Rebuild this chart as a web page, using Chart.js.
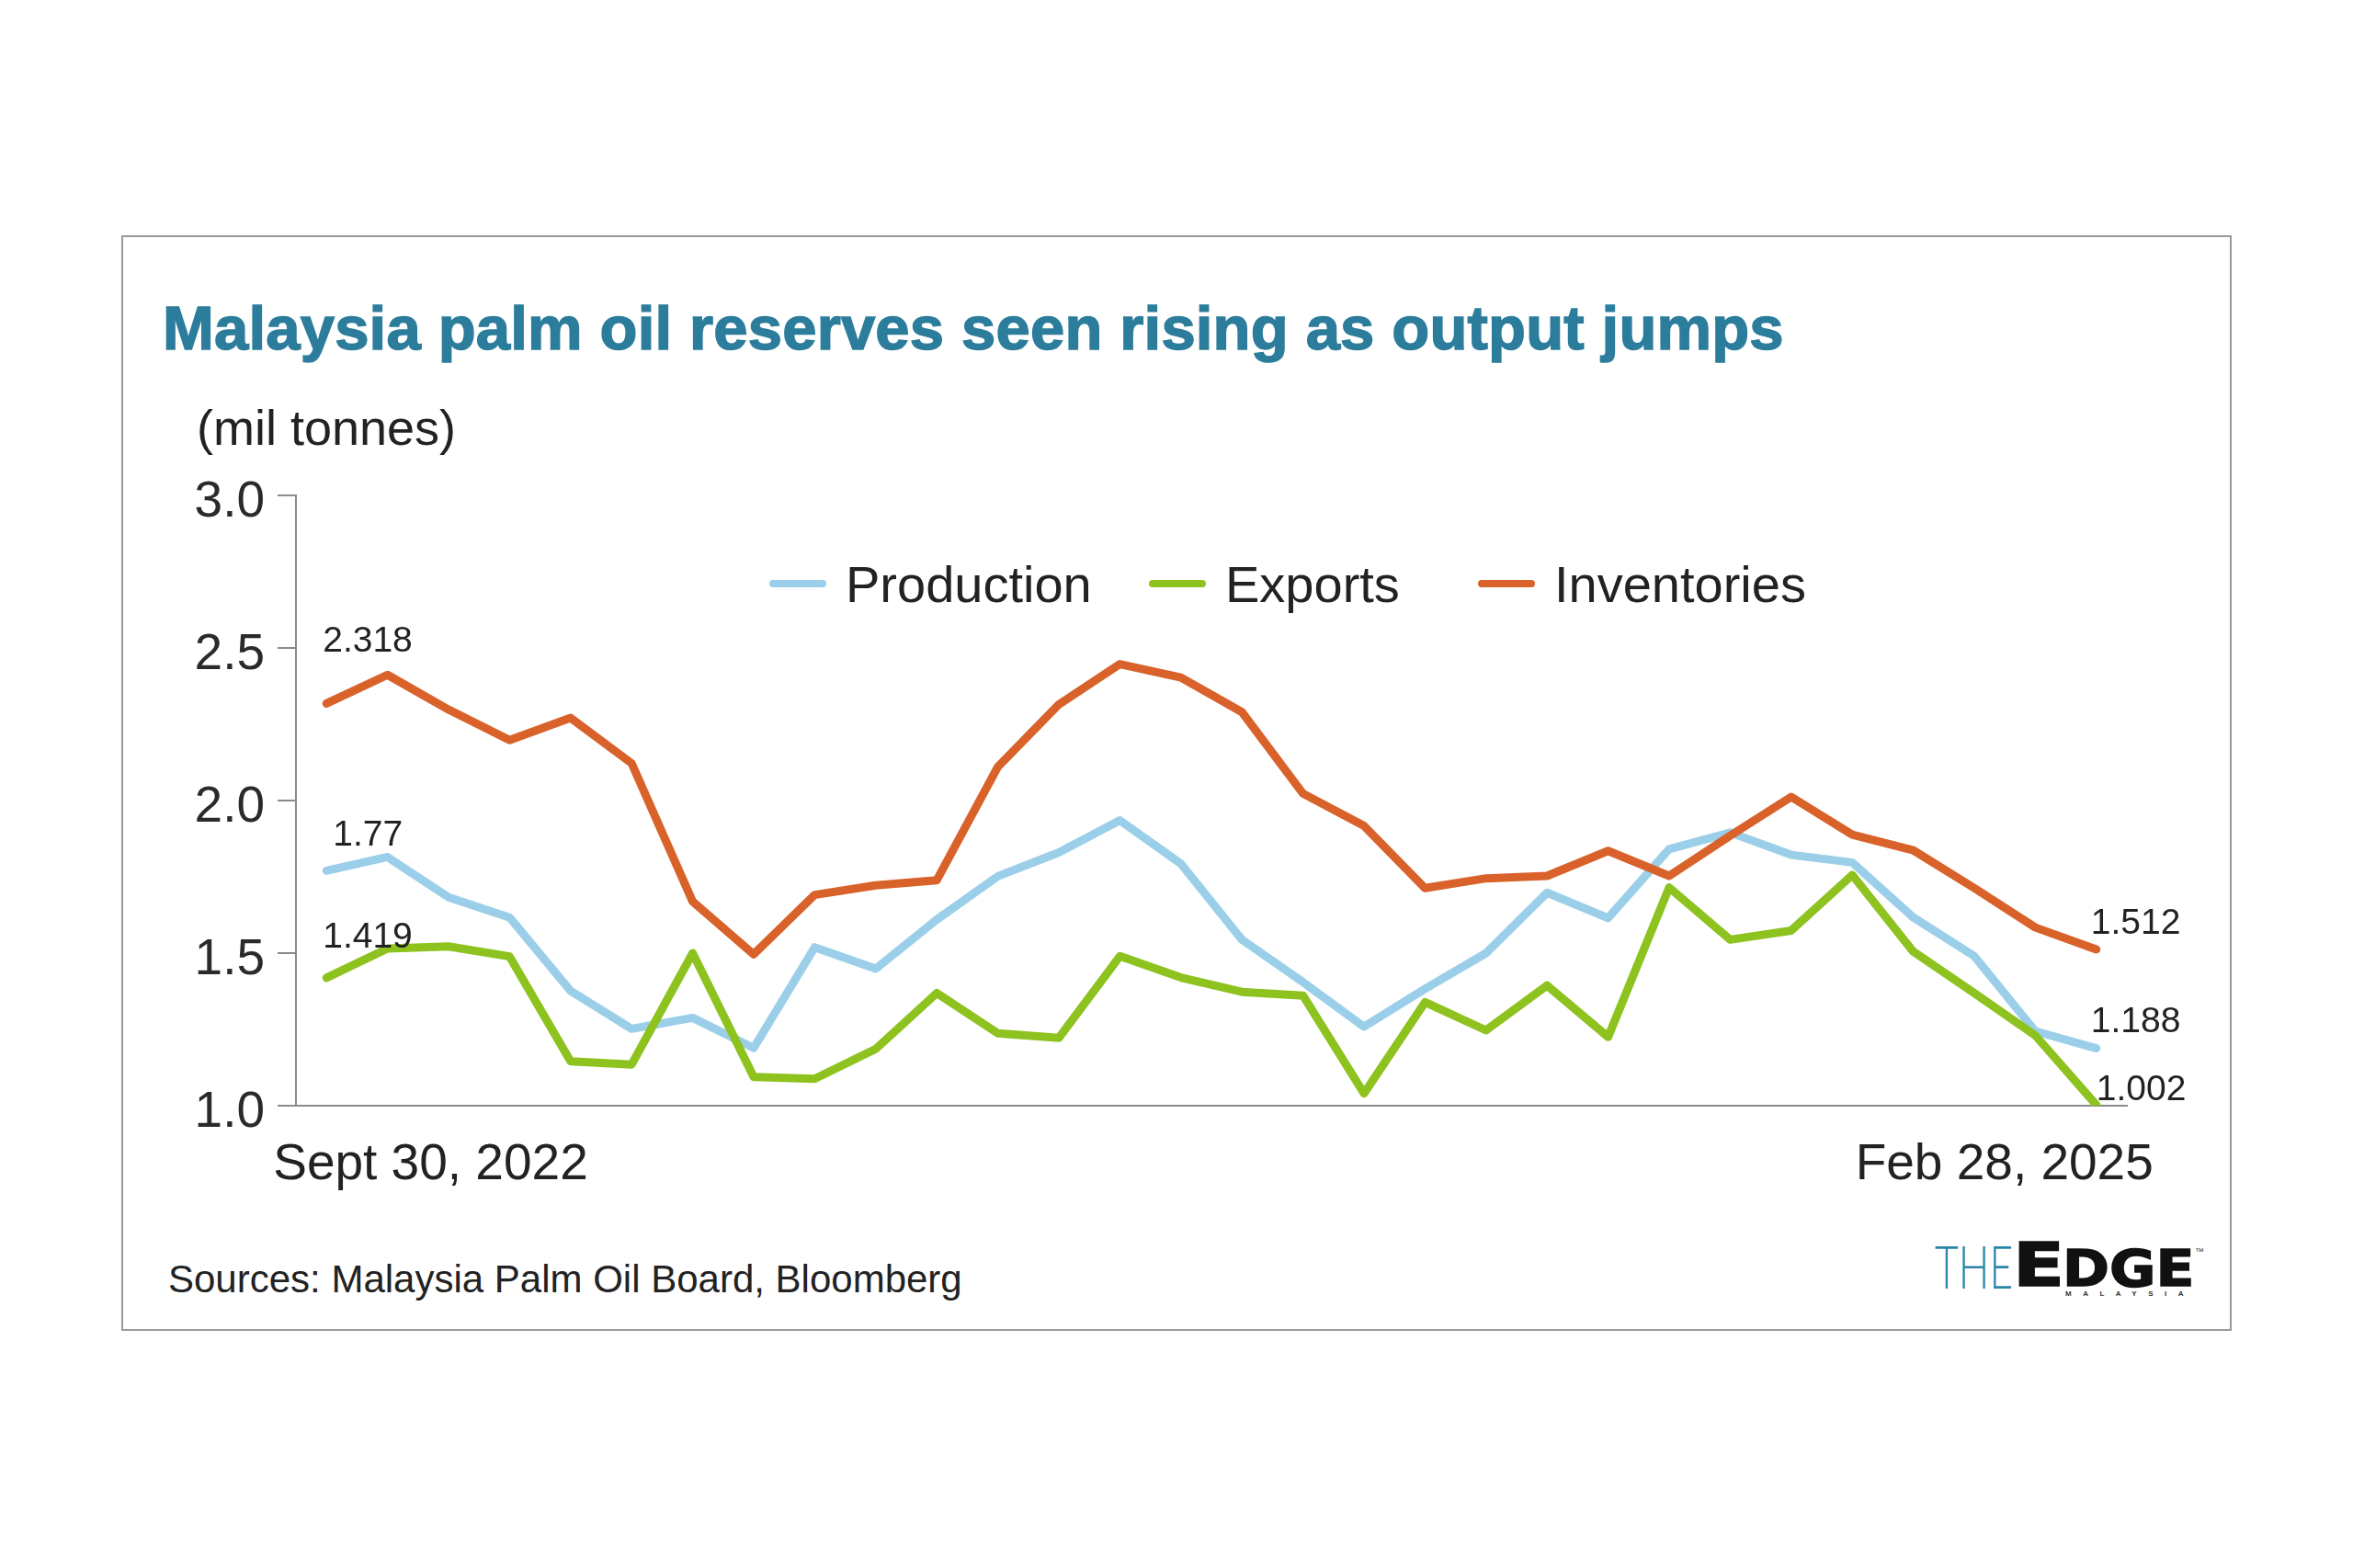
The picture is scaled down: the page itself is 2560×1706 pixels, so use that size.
<!DOCTYPE html>
<html>
<head>
<meta charset="utf-8">
<script src="https://cdn.jsdelivr.net/npm/chart.js@4.4.1/dist/chart.umd.min.js"></script>
<style>
  html, body { margin: 0; padding: 0; background: #fff; }
  body { width: 2560px; height: 1706px; position: relative; overflow: hidden;
         font-family: "Liberation Sans", Arial, sans-serif; color: #222; }
  .frame { position: absolute; left: 132px; top: 256px; width: 2296px; height: 1192px;
           box-sizing: border-box; border: 2px solid #9a9a9a; }
  .txt { position: absolute; white-space: nowrap; line-height: 1; }
  #title { left: 177px; top: 323px; font-size: 67px; font-weight: bold; color: #2c7d9c;
           -webkit-text-stroke: 1.5px #2c7d9c; }
  #unit { left: 214px; top: 438px; font-size: 54px; color: #222; }
  #source { left: 183px; top: 1371px; font-size: 42px; color: #222; }
  .legend-item { position: absolute; top: 608px; display: flex; align-items: center;
                 font-size: 56px; line-height: 1; white-space: nowrap; }
  .legend-item .swatch { width: 62px; height: 8px; border-radius: 4px; margin-right: 21px; position: relative; top: -1px; }
  #chart { position: absolute; left: 0; top: 0; }
  .logo { position: absolute; line-height: 1; white-space: nowrap; transform-origin: 0 0; }
</style>
</head>
<body>
<div class="frame"></div>
<div class="txt" id="title">Malaysia palm oil reserves seen rising as output jumps</div>
<div class="txt" id="unit">(mil tonnes)</div>
<div class="txt" id="source">Sources: Malaysia Palm Oil Board, Bloomberg</div>
<div class="logo" id="logoThe" style="left:2105px; top:1344px; font-size:66px; font-weight:300; color:#2a86a6; font-family:Lato, 'Liberation Sans', sans-serif;">THE</div>
<div class="logo" id="logoE" style="left:2190px; top:1344px; font-size:66px; font-weight:bold; color:#111; font-family:'DejaVu Sans', sans-serif; -webkit-text-stroke:1.5px #111;">E</div>
<div class="logo" id="logoDge" style="left:2244px; top:1353px; font-size:55px; font-weight:bold; color:#111; font-family:'DejaVu Sans', sans-serif; -webkit-text-stroke:1.5px #111;">DGE</div>
<div class="logo" style="left:2388px; top:1357px; font-size:10px; color:#444;">™</div>
<div class="logo" style="left:2247px; top:1404px; font-size:8px; font-weight:bold; color:#333; letter-spacing:12.5px;">MALAYSIA</div>
<canvas id="chart" width="2560" height="1706"></canvas>

<script>
// monthly readings, end of month, Sept 2022 .. Feb 2025 (mil tonnes)
const months = [
  'Sep 2022', 'Oct 2022', 'Nov 2022', 'Dec 2022',
  'Jan 2023', 'Feb 2023', 'Mar 2023', 'Apr 2023', 'May 2023', 'Jun 2023',
  'Jul 2023', 'Aug 2023', 'Sep 2023', 'Oct 2023', 'Nov 2023', 'Dec 2023',
  'Jan 2024', 'Feb 2024', 'Mar 2024', 'Apr 2024', 'May 2024', 'Jun 2024',
  'Jul 2024', 'Aug 2024', 'Sep 2024', 'Oct 2024', 'Nov 2024', 'Dec 2024',
  'Jan 2025', 'Feb 2025'
];

const production = [
  1.77, 1.815, 1.683, 1.617, 1.376, 1.252, 1.288, 1.189, 1.519, 1.449,
  1.610, 1.752, 1.830, 1.935, 1.793, 1.544, 1.405, 1.259, 1.383, 1.500,
  1.698, 1.615, 1.841, 1.895, 1.822, 1.797, 1.617, 1.490, 1.244, 1.188
];

const exportsData = [
  1.419, 1.515, 1.522, 1.489, 1.145, 1.135, 1.500, 1.094, 1.088, 1.186,
  1.369, 1.237, 1.222, 1.490, 1.420, 1.373, 1.361, 1.040, 1.339, 1.247,
  1.394, 1.225, 1.715, 1.544, 1.574, 1.756, 1.505, 1.369, 1.230, 1.002
];

const inventories = [
  2.318, 2.412, 2.298, 2.198, 2.271, 2.122, 1.669, 1.496, 1.691, 1.722,
  1.739, 2.110, 2.315, 2.447, 2.403, 2.290, 2.023, 1.917, 1.713, 1.745,
  1.753, 1.835, 1.753, 1.885, 2.012, 1.888, 1.837, 1.713, 1.584, 1.512
];

const yTicks = [1.0, 1.5, 2.0, 2.5, 3.0];
const dateLabels = ['Sept 30, 2022', 'Feb 28, 2025'];

const FONT = '"Liberation Sans", Arial, sans-serif';

// which points get a value printed next to them, and where
const valueLabels = [
  {ds: 2, idx: 0, dx: -4, dy: -56},
  {ds: 0, idx: 0, dx: 7, dy: -27},
  {ds: 1, idx: 0, dx: -4, dy: -33},
  {ds: 2, idx: 29, dx: -6, dy: -17},
  {ds: 0, idx: 29, dx: -6, dy: -18},
  {ds: 1, idx: 29, dx: 0, dy: -5},
];

const legendLeft = [837, 1250, 1608];

const lineStyle = {
  borderWidth: 9,
  pointRadius: 0,
  pointHoverRadius: 0,
  tension: 0,
  borderJoinStyle: 'round',
  borderCapStyle: 'round',
  fill: false,
};

const textPlugin = {
  id: 'chartText',
  afterDatasetsDraw(chart) {
    const {ctx, scales: {x, y}, chartArea} = chart;
    ctx.save();
    ctx.fillStyle = '#222';
    ctx.textBaseline = 'alphabetic';
    ctx.font = `39px ${FONT}`;
    ctx.textAlign = 'left';
    valueLabels.forEach((l) => {
      const v = chart.data.datasets[l.ds].data[l.idx];
      ctx.fillText(String(v), x.getPixelForValue(l.idx) + l.dx, y.getPixelForValue(v) + l.dy);
    });

    // end dates under the axis
    ctx.font = `55px ${FONT}`;
    const base = chartArea.bottom + 80;
    ctx.textAlign = 'left';
    ctx.fillText(dateLabels[0], x.getPixelForValue(0) - 58, base);
    ctx.textAlign = 'right';
    ctx.fillText(dateLabels[1], x.getPixelForValue(months.length - 1) + 62, base);
    ctx.restore();
  },
};

const chart = new Chart(document.getElementById('chart'), {
  type: 'line',
  data: {
    labels: months,
    datasets: [
      {label: 'Production', data: production, borderColor: '#9bcfe9', backgroundColor: '#9bcfe9', order: 3, ...lineStyle},
      {label: 'Exports', data: exportsData, borderColor: '#8dc21f', backgroundColor: '#8dc21f', order: 2, ...lineStyle},
      {label: 'Inventories', data: inventories, borderColor: '#d9622b', backgroundColor: '#d9622b', order: 1, ...lineStyle},
    ],
  },
  options: {
    responsive: false,
    animation: false,
    devicePixelRatio: 1,
    layout: {padding: {left: 140, right: 246, top: 539, bottom: 503}},
    plugins: {
      legend: {display: false},
      tooltip: {enabled: false},
    },
    scales: {
      x: {
        offset: true,
        grid: {display: false},
        ticks: {display: false},
        border: {display: true, color: '#8a8a8a', width: 2},
        afterFit: (scale) => { scale.height = 0; },
      },
      y: {
        min: 1,
        max: 3,
        afterBuildTicks: (scale) => { scale.ticks = yTicks.map((v) => ({value: v})); },
        afterFit: (scale) => { scale.width = 182; },
        ticks: {
          callback: (value) => Number(value).toFixed(1),
          font: {size: 55, family: FONT},
          color: '#2a2a2a',
          padding: 14,
          labelOffset: 8,
        },
        grid: {drawOnChartArea: false, drawTicks: true, tickLength: 20, color: '#8a8a8a', lineWidth: 2},
        border: {display: true, color: '#8a8a8a', width: 2},
      },
    },
  },
  plugins: [textPlugin],
});

// html legend built from the datasets
chart.data.datasets.forEach((ds, i) => {
  const item = document.createElement('div');
  item.className = 'legend-item';
  item.style.left = legendLeft[i] + 'px';
  item.innerHTML = `<span class="swatch" style="background:${ds.borderColor}"></span><span>${ds.label}</span>`;
  document.body.appendChild(item);
});

// title spans 1764px in the original
const title = document.getElementById('title');
const chars = title.textContent.length;
title.style.letterSpacing = ((1764 - title.offsetWidth) / chars) + 'px';

// squeeze/stretch the logo words to their box widths
const fit = (id, w) => {
  const el = document.getElementById(id);
  el.style.transform = `scaleX(${w / el.offsetWidth})`;
};
fit('logoThe', 85);
fit('logoE', 56);
fit('logoDge', 143);
</script>
</body>
</html>
